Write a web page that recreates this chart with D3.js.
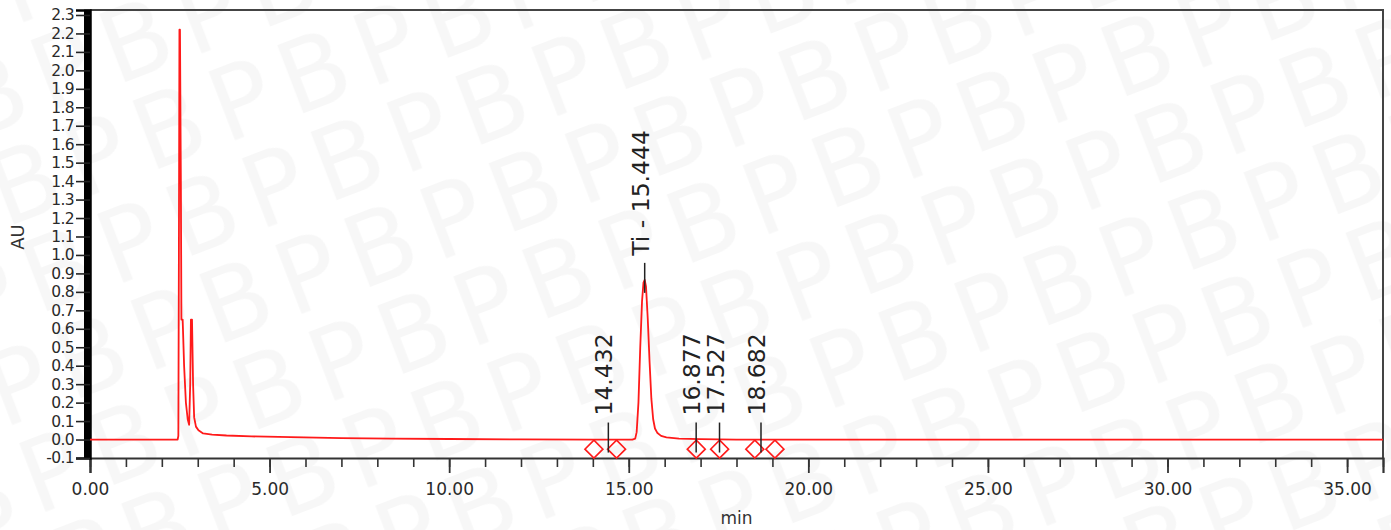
<!DOCTYPE html>
<meta charset="utf-8">
<script src="https://d3js.org/d3.v7.min.js"></script>
<style>
  body { margin: 0; background: #fff; }
  text { font-family: "DejaVu Sans", Verdana, sans-serif; }
</style>
<div id="chart"></div>
<script>

  // trace (min, AU)
  var times = [0, 2.44, 2.46, 2.475, 2.49, 2.505, 2.53, 2.545, 2.58, 2.62, 2.67, 2.72, 2.76, 2.79, 2.81, 2.84, 2.87, 2.90, 2.95, 3.02, 3.15, 3.4, 3.8, 4.5, 5.6, 7.0, 8.4, 10.0, 12.0, 14.0,
    15.10, 15.18, 15.22, 15.27, 15.32, 15.37, 15.41, 15.444, 15.48, 15.53, 15.58, 15.63, 15.68, 15.73, 15.80, 15.90, 16.05, 16.4, 17.0, 18.0, 20.0, 36.0];
  var values = [0, 0, 0.02, 1.0, 2.22, 2.22, 1.40, 0.65, 0.65, 0.40, 0.20, 0.11, 0.08, 0.30, 0.65, 0.65, 0.30, 0.12, 0.07, 0.05, 0.033, 0.027, 0.022, 0.017, 0.013, 0.008, 0.005, 0.003, 0.001, 0,
    0, 0.005, 0.04, 0.20, 0.50, 0.75, 0.85, 0.865, 0.83, 0.65, 0.42, 0.22, 0.11, 0.06, 0.035, 0.02, 0.012, 0.005, 0.002, 0, 0, 0];

  // integrated peaks
  var peakTimes = [14.432, 15.444, 16.877, 17.527, 18.682];
  var peakHeights = [0, 0.865, 0, 0, 0];
  var peakLabels = ["14.432", "Ti - 15.444", "16.877", "17.527", "18.682"];

  // peak start / end markers
  var markerTimes = [14.03, 14.66, 16.88, 17.53, 18.51, 19.07];
  var markerLevel = -0.052;

  // axis ticks
  var xTicks = [0, 5, 10, 15, 20, 25, 30, 35];
  var xMinorTicks = d3.range(0, 37, 1);
  var yTicks = [-0.1, 0.0, 0.1, 0.2, 0.3, 0.4, 0.5, 0.6, 0.7, 0.8, 0.9, 1.0, 1.1, 1.2, 1.3, 1.4, 1.5, 1.6, 1.7, 1.8, 1.9, 2.0, 2.1, 2.2, 2.3];
  var yMinorTicks = d3.range(-200, 4651, 10).map(function (d) { return d / 2000; });

  var W = 1391, H = 530;
  var plot = { left: 90, right: 1383, top: 10, bottom: 458 };

  var svg = d3.select("#chart").append("svg")
    .attr("width", W)
    .attr("height", H);

  // faint "BP" watermark as a tiled pattern
  var pat = svg.append("defs").append("pattern")
    .attr("id", "wm")
    .attr("patternUnits", "userSpaceOnUse")
    .attr("width", 155)
    .attr("height", 93)
    .attr("patternTransform", "translate(940,80) rotate(-21)");
  pat.append("text")
    .attr("x", 4)
    .attr("y", 82)
    .attr("font-size", 100)
    .attr("letter-spacing", 13)
    .attr("fill", "#f7f7f7")
    .text("BP");

  svg.append("rect").attr("width", W).attr("height", H).attr("fill", "#fff");
  svg.append("rect").attr("width", W).attr("height", H).attr("fill", "url(#wm)");

  var x = d3.scaleLinear().domain([0, 36]).range([plot.left, plot.right]);
  var y = d3.scaleLinear().domain([-0.1, 2.327]).range([plot.bottom, plot.top]);

  // frame top and right
  svg.append("path")
    .attr("d", "M" + plot.left + "," + plot.top + "H" + plot.right + "V" + plot.bottom)
    .attr("fill", "none")
    .attr("stroke", "#444")
    .attr("stroke-width", 2);

  // x axis: minor then major
  svg.append("g")
    .attr("transform", "translate(0," + plot.bottom + ")")
    .call(d3.axisBottom(x).tickValues(xMinorTicks).tickSize(9).tickFormat(""))
    .call(function (g) { g.select(".domain").remove(); })
    .selectAll("line").attr("stroke", "#333").attr("stroke-width", 1.6);

  var xAxis = svg.append("g")
    .attr("transform", "translate(0," + plot.bottom + ")")
    .call(d3.axisBottom(x).tickValues(xTicks).tickSize(15).tickPadding(10)
      .tickFormat(function (d) { return d.toFixed(2); }));
  xAxis.select(".domain").attr("stroke", "#333").attr("stroke-width", 2.2);
  xAxis.selectAll("line").attr("stroke", "#333").attr("stroke-width", 1.8);
  xAxis.selectAll("text").attr("font-size", 17).attr("fill", "#2a2a2a")
    .attr("font-family", "DejaVu Sans, sans-serif");

  // y axis: dense minor ticks form a solid black band
  var band = svg.append("g");
  band.append("rect")
    .attr("x", plot.left - 6)
    .attr("width", 6)
    .attr("y", y(d3.max(yMinorTicks)))
    .attr("height", y(d3.min(yMinorTicks)) - y(d3.max(yMinorTicks)))
    .attr("fill", "#000");
  band.selectAll("line")
    .data(yMinorTicks)
    .enter().append("line")
    .attr("x1", plot.left - 6)
    .attr("x2", plot.left)
    .attr("y1", function (d) { return y(d); })
    .attr("y2", function (d) { return y(d); })
    .attr("stroke", "#000")
    .attr("stroke-width", 1.5);

  var yAxis = svg.append("g")
    .attr("transform", "translate(" + plot.left + ",0)")
    .call(d3.axisLeft(y).tickValues(yTicks).tickSize(14).tickPadding(2)
      .tickFormat(function (d) { return d.toFixed(1); }));
  yAxis.select(".domain").attr("stroke", "#000").attr("stroke-width", 2.5);
  yAxis.selectAll("line").attr("stroke", "#222").attr("stroke-width", 1.6);
  yAxis.selectAll("text").attr("font-size", 15.5).attr("fill", "#2a2a2a")
    .attr("font-family", "DejaVu Sans, sans-serif")
    .attr("letter-spacing", -0.6);

  // axis titles
  svg.append("text")
    .attr("transform", "translate(24," + 237 + ") rotate(-90)")
    .attr("text-anchor", "middle")
    .attr("font-size", 18)
    .attr("fill", "#333")
    .text("AU");

  svg.append("text")
    .attr("x", x(18))
    .attr("y", 524)
    .attr("text-anchor", "middle")
    .attr("font-size", 17)
    .attr("fill", "#333")
    .text("min");

  // chromatogram trace
  var line = d3.line()
    .x(function (d, i) { return x(times[i]); })
    .y(function (d, i) { return y(values[i]); });

  svg.append("path")
    .datum(values)
    .attr("fill", "none")
    .attr("stroke", "#ff1a1a")
    .attr("stroke-width", 1.8)
    .attr("stroke-linejoin", "round")
    .attr("d", line);

  // start/end diamonds
  svg.selectAll(".marker")
    .data(markerTimes)
    .enter().append("path")
    .attr("class", "marker")
    .attr("transform", function (d) { return "translate(" + x(d) + "," + y(markerLevel) + ")"; })
    .attr("d", "M0,-9L9,0L0,9L-9,0Z")
    .attr("fill", "none")
    .attr("stroke", "#ff1a1a")
    .attr("stroke-width", 1.6);

  // peak drop lines and labels
  svg.selectAll(".drop")
    .data(peakTimes)
    .enter().append("line")
    .attr("class", "drop")
    .attr("x1", function (d) { return x(d); })
    .attr("x2", function (d) { return x(d); })
    .attr("y1", function (d, i) { return y(peakHeights[i]) - 17; })
    .attr("y2", function (d, i) { return y(peakHeights[i]) + 13; })
    .attr("stroke", "#222")
    .attr("stroke-width", 1.5);

  svg.selectAll(".plabel")
    .data(peakTimes)
    .enter().append("text")
    .attr("class", "plabel")
    .attr("transform", function (d, i) {
      return "translate(" + (x(d) + 4) + "," + (y(peakHeights[i]) - 24) + ") rotate(-90)";
    })
    .attr("font-size", 23.5)
    .attr("fill", "#222")
    .text(function (d, i) { return peakLabels[i]; });

</script>
